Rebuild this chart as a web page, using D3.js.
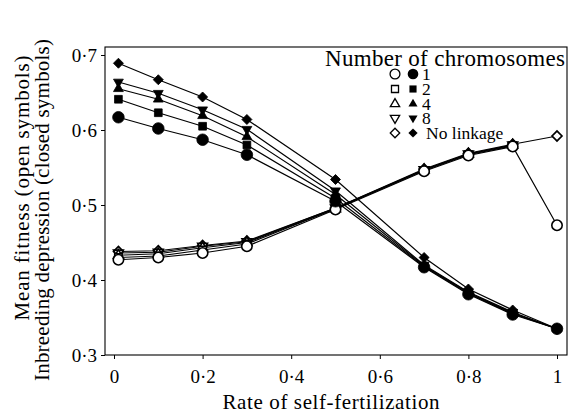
<!DOCTYPE html>
<html><head><meta charset="utf-8">
<script src="https://cdn.jsdelivr.net/npm/d3@7"></script>
<style>
html,body{margin:0;padding:0;background:#fff;}
svg text{font-family:"Liberation Serif","Times New Roman",serif;fill:#000;}
</style></head>
<body>
<svg id="chart" width="569" height="414"></svg>
<script>
// ---- data ----
const selfingRates = [0.01, 0.1, 0.2, 0.3, 0.5, 0.7, 0.8, 0.9, 1];
const seriesNames = ["1", "2", "4", "8", "No linkage"];
// Mean fitness (open symbols)
const fitness1  = [0.427, 0.430, 0.436, 0.445, 0.494, 0.545, 0.566, 0.578, 0.473];
const fitness2  = [0.430, 0.432, 0.440, 0.448, 0.495, 0.546, 0.567, 0.579, null];
const fitness4  = [0.433, 0.435, 0.443, 0.450, 0.495, 0.547, 0.568, 0.580, null];
const fitness8  = [0.436, 0.437, 0.445, 0.451, 0.496, 0.547, 0.568, 0.580, null];
const fitnessNL = [0.438, 0.439, 0.446, 0.452, 0.496, 0.548, 0.569, 0.581, 0.592];
// Inbreeding depression (closed symbols)
const depression1  = [0.617, 0.602, 0.587, 0.567, 0.505, 0.417, 0.381, 0.354, 0.335];
const depression2  = [0.641, 0.623, 0.605, 0.580, 0.509, 0.418, 0.382, 0.355, 0.335];
const depression4  = [0.655, 0.641, 0.619, 0.591, 0.514, 0.419, 0.383, 0.356, 0.335];
const depression8  = [0.664, 0.649, 0.627, 0.601, 0.519, 0.420, 0.384, 0.357, 0.335];
const depressionNL = [0.689, 0.667, 0.644, 0.614, 0.534, 0.430, 0.388, 0.360, 0.335];
const xTicks = [0, 0.2, 0.4, 0.6, 0.8, 1];
const yTicks = [0.3, 0.4, 0.5, 0.6, 0.7];

const fitnessSeries = [fitness1, fitness2, fitness4, fitness8, fitnessNL];
const depressionSeries = [depression1, depression2, depression4, depression8, depressionNL];

// ---- layout ----
const svg = d3.select("#chart");
const box = {left: 105, right: 567, top: 47, bottom: 355};
const x = d3.scaleLinear().domain([0, 1]).range([114, 557]);
const y = d3.scaleLinear().domain([0.3, 0.7]).range([355, 55]);
const fmt = v => (v === 0 || v === 1) ? String(v) : d3.format(".1f")(v).replace(".", "\u00B7");

// frame
svg.append("rect").attr("x", box.left).attr("y", box.top)
  .attr("width", box.right - box.left).attr("height", box.bottom - box.top)
  .attr("fill", "none").attr("stroke", "#000").attr("stroke-width", 1.1);

// axes
const yAxis = svg.append("g").attr("transform", `translate(${box.left},0)`)
  .call(d3.axisLeft(y).tickValues(yTicks).tickFormat(fmt).tickSize(4).tickPadding(4));
const xAxis = svg.append("g").attr("transform", `translate(0,${box.bottom})`)
  .call(d3.axisBottom(x).tickValues(xTicks).tickFormat(fmt).tickSize(4).tickPadding(11));
[yAxis, xAxis].forEach(g => {
  g.select(".domain").remove();
  g.selectAll("line").attr("stroke", "#000").attr("stroke-width", 1);
  g.selectAll("text").attr("font-size", 19).attr("font-family", "Liberation Serif, serif").attr("fill", "#000");
});

// axis titles
svg.append("text").attr("x", 331).attr("y", 409).attr("text-anchor", "middle")
  .attr("font-size", 21).attr("textLength", 217).attr("lengthAdjust", "spacing")
  .text("Rate of self-fertilization");
svg.append("text").attr("transform", "translate(29,188) rotate(-90)").attr("text-anchor", "middle")
  .attr("font-size", 21).attr("textLength", 265).attr("lengthAdjust", "spacing")
  .text("Mean fitness (open symbols)");
svg.append("text").attr("transform", "translate(49,210) rotate(-90)").attr("text-anchor", "middle")
  .attr("font-size", 21).attr("textLength", 342).attr("lengthAdjust", "spacing")
  .text("Inbreeding depression (closed symbols)");

// symbols
const sym = [
  {type: d3.symbolCircle, size: 105, rot: 0},
  {type: d3.symbolSquare, size: 60, rot: 0},
  {type: d3.symbolTriangle, size: 42, rot: 0},
  {type: d3.symbolTriangle, size: 42, rot: 180},
  {type: d3.symbolSquare, size: 50, rot: 45}
];
const openSym = [
  {type: d3.symbolCircle, size: 85, rot: 0},
  {type: d3.symbolSquare, size: 55, rot: 0},
  {type: d3.symbolTriangle, size: 42, rot: 0},
  {type: d3.symbolTriangle, size: 42, rot: 180},
  {type: d3.symbolSquare, size: 50, rot: 45}
];

const line = d3.line()
  .defined(d => d.v !== null)
  .x(d => x(d.s)).y(d => y(d.v));

function drawGroup(seriesList, symbols, filled) {
  const order = [4, 3, 2, 1, 0];
  order.forEach(i => {
    const pts = seriesList[i].map((v, j) => ({s: selfingRates[j], v: v}));
    svg.append("path").datum(pts).attr("d", line)
      .attr("fill", "none").attr("stroke", "#000").attr("stroke-width", 1.2);
  });
  order.forEach(i => {
    const pts = seriesList[i].map((v, j) => ({s: selfingRates[j], v: v})).filter(d => d.v !== null);
    const sp = symbols[i];
    svg.append("g").selectAll("path").data(pts).join("path")
      .attr("d", d3.symbol().type(sp.type).size(sp.size))
      .attr("transform", d => `translate(${x(d.s)},${y(d.v)}) rotate(${sp.rot})`)
      .attr("fill", filled ? "#000" : "#fff")
      .attr("stroke", "#000").attr("stroke-width", filled ? 0.8 : 1.6);
  });
}
drawGroup(fitnessSeries, openSym, false);
drawGroup(depressionSeries, sym, true);

// legend
svg.append("text").attr("x", 565).attr("y", 66).attr("text-anchor", "end")
  .attr("font-size", 23).attr("textLength", 240).attr("lengthAdjust", "spacing")
  .text("Number of chromosomes");
const rowY = [74, 89, 104, 118, 133];
seriesNames.forEach((name, i) => {
  const ry = rowY[i];
  const o = openSym[i], f = sym[i];
  svg.append("path").attr("d", d3.symbol().type(o.type).size(o.size * 0.9))
    .attr("transform", `translate(395,${ry}) rotate(${o.rot})`)
    .attr("fill", "#fff").attr("stroke", "#000").attr("stroke-width", 1.3);
  svg.append("path").attr("d", d3.symbol().type(f.type).size(f.size * 0.85))
    .attr("transform", `translate(413,${ry}) rotate(${f.rot})`)
    .attr("fill", "#000");
  svg.append("text").attr("x", i === 4 ? 426 : 422).attr("y", ry + 6).attr("font-size", 17.5).text(name);
});
</script>
</body></html>
